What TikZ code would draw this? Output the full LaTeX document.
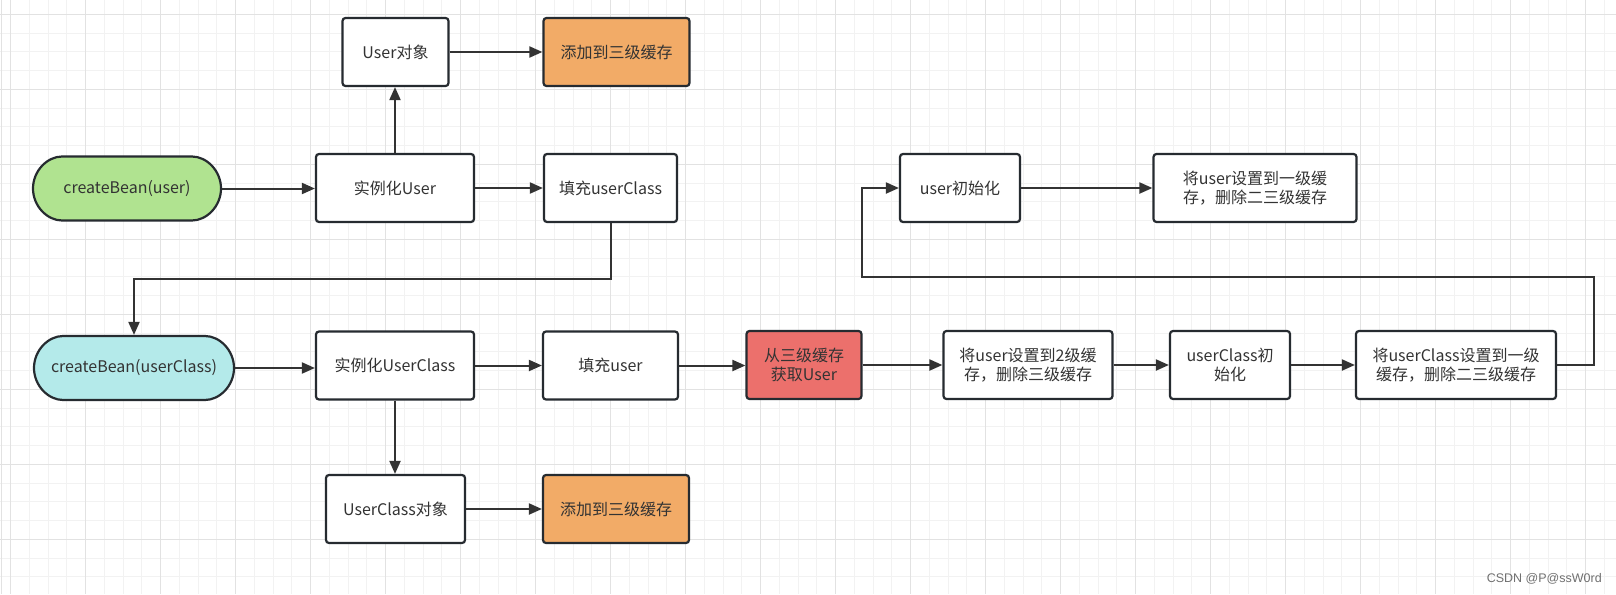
\documentclass[tikz,border=0pt]{standalone}
\usepackage{fontspec}
\setmainfont{Noto Sans CJK SC}
\newfontfamily\wmfont{Liberation Sans}
\usetikzlibrary{arrows.meta,shapes.misc}
\definecolor{gmin}{HTML}{F2F2F2}
\definecolor{gmaj}{HTML}{E2E2E2}
\definecolor{bd}{HTML}{262B30}
\definecolor{ar}{HTML}{333333}
\definecolor{tx}{HTML}{333333}
\definecolor{green}{HTML}{B0E390}
\definecolor{cyan}{HTML}{B4EAEA}
\definecolor{orange}{HTML}{F2AB67}
\definecolor{redf}{HTML}{EC706C}
\definecolor{wm}{HTML}{707070}
\tikzset{
  box/.style={draw=bd, line width=2.2pt, rounded corners=3pt, fill=white, text=tx,
    font=\fontsize{16}{19}\selectfont, align=center, inner sep=0pt, minimum height=68pt},
  term/.style={box, rounded rectangle, rounded rectangle arc length=180, minimum height=64pt},
  arr/.style={draw=ar, line width=2pt, -{Triangle[length=13pt,width=11pt]}},
  gminl/.style={draw=gmin, line width=1pt},
  gmajl/.style={draw=gmaj, line width=1pt}
}
\begin{document}
\begin{tikzpicture}[x=1pt,y=-1pt]
\useasboundingbox (0,0) rectangle (1616,594);
\fill[white] (0,0) rectangle (1616,594);
% grid
\foreach \k in {0,...,85} \draw[gminl] ({10.7+18.75*\k},0) -- ++(0,594);
\foreach \k in {0,...,30} \draw[gminl] (0,{14.3+18.75*\k}) -- ++(1616,0);
\foreach \k in {0,...,21} \draw[gmajl] ({10.7+75*\k},0) -- ++(0,594);
\foreach \k in {0,...,7} \draw[gmajl] (0,{14.3+75*\k}) -- ++(1616,0);
\draw[gmajl] (1.5,0) -- (1.5,594);

% top row
\node[term, fill=green, minimum width=188pt] (cbu) at (127,188.5) {createBean(user)};
\node[box, minimum width=158pt] (iu) at (395,188) {实例化User};
\node[box, minimum width=106pt] (uo) at (395.5,52) {User对象};
\node[box, fill=orange, minimum width=146pt] (a1) at (616.5,52) {添加到三级缓存};
\node[box, minimum width=133pt] (fuc) at (610.5,188) {填充userClass};
\node[box, minimum width=120pt] (ui) at (960,188) {user初始化};
\node[box, minimum width=203pt] (s1u) at (1255,188) {将user设置到一级缓\\存，删除二三级缓存};

% bottom row
\node[term, fill=cyan, minimum width=200pt] (cbuc) at (134,368) {createBean(userClass)};
\node[box, minimum width=158pt] (iuc) at (395,365.5) {实例化UserClass};
\node[box, minimum width=135pt] (fu) at (610.5,365.5) {填充user};
\node[box, fill=redf, minimum width=115pt] (gu) at (804,365) {从三级缓存\\获取User};
\node[box, minimum width=169pt] (s2) at (1028,365) {将user设置到2级缓\\存，删除三级缓存};
\node[box, minimum width=120pt] (uci) at (1230,365) {userClass初\\始化};
\node[box, minimum width=200pt] (s1c) at (1456,365) {将userClass设置到一级\\缓存，删除二三级缓存};
\node[box, minimum width=139pt] (uco) at (395.5,509) {UserClass对象};
\node[box, fill=orange, minimum width=146pt] (a2) at (616,509) {添加到三级缓存};

% connectors
\draw[arr] (cbu.east) -- (cbu.east -| iu.west);
\draw[arr] (iu.north) -- (iu.north |- uo.south);
\draw[arr] (uo.east) -- (uo.east -| a1.west);
\draw[arr] (iu.east) -- (iu.east -| fuc.west);
\draw[arr] (ui.east) -- (ui.east -| s1u.west);
\draw[arr] (fuc.south) -- ++(0,56) -| (cbuc.north);

\draw[arr] (cbuc.east) -- (cbuc.east -| iuc.west);
\draw[arr] (iuc.east) -- (iuc.east -| fu.west);
\draw[arr] (fu.east) -- (fu.east -| gu.west);
\draw[arr] (gu.east) -- (gu.east -| s2.west);
\draw[arr] (s2.east) -- (s2.east -| uci.west);
\draw[arr] (uci.east) -- (uci.east -| s1c.west);
\draw[arr] (iuc.south) -- (iuc.south |- uco.north);
\draw[arr] (uco.east) -- (uco.east -| a2.west);

\coordinate (lr) at (1593.5,276.7);
\coordinate (ll) at (862,276.7);
\draw[arr] (s1c.east) -| (lr) -- (ll) |- (ui.west);

\node[anchor=east, font=\wmfont\fontsize{12.5}{14}\selectfont, text=wm, inner sep=0pt] (wmk) at (1602,579) {CSDN @P@ssW0rd};
\end{tikzpicture}
\end{document}
